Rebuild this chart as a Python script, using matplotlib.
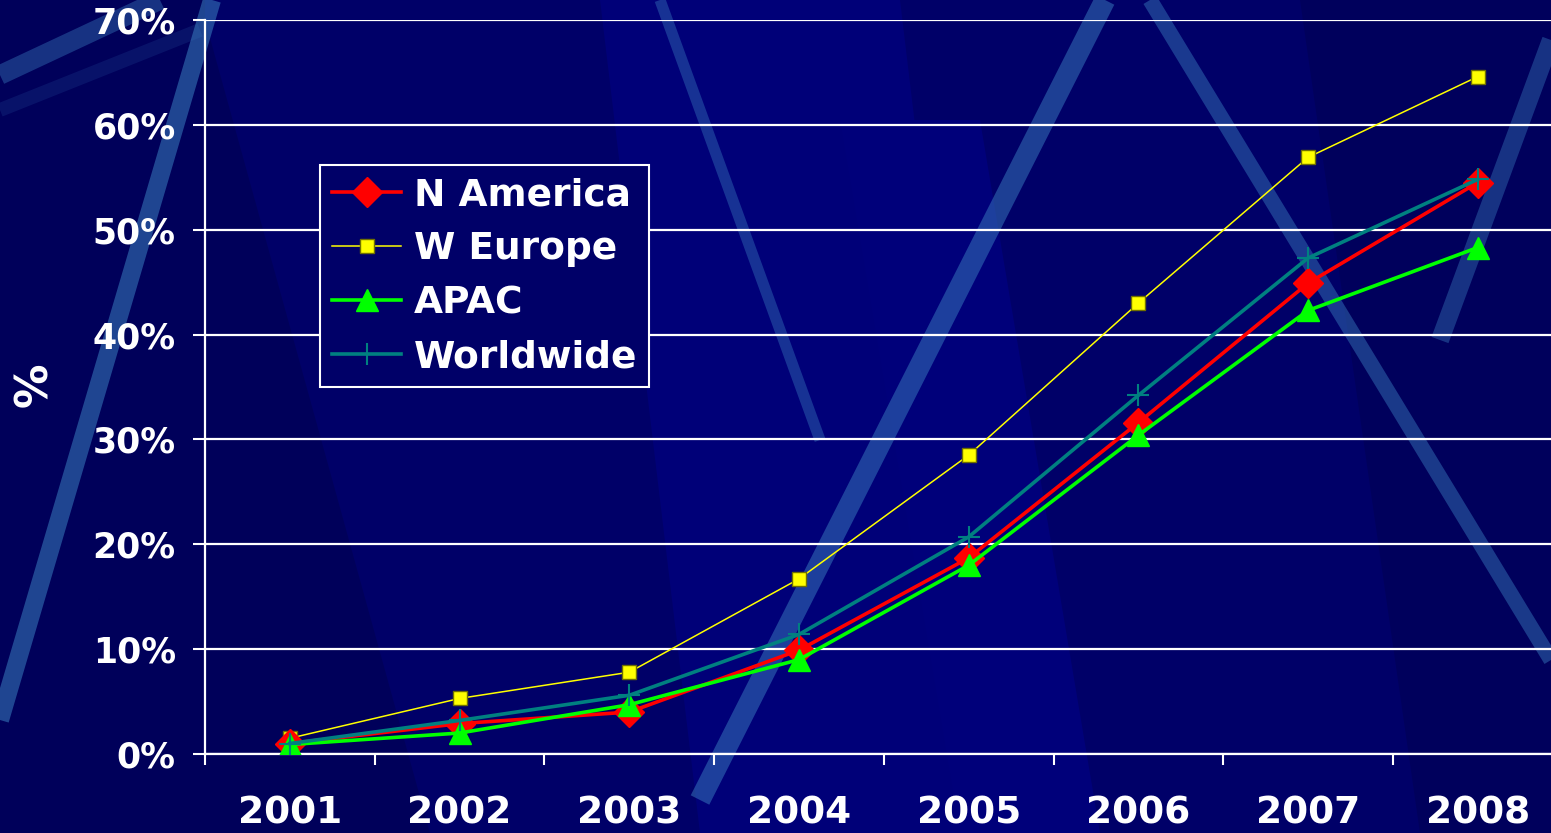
import numpy as np
import matplotlib
matplotlib.use("Agg")
import matplotlib.pyplot as plt
from matplotlib.patches import Polygon

plt.rcParams['font.family'] = ['DejaVu Sans']
plt.rcParams['font.weight'] = 'bold'

# data (percent)
years = ['2001', '2002', '2003', '2004', '2005', '2006', '2007', '2008']
n_america = [1.0, 2.9, 4.0, 9.9, 18.7, 31.6, 44.9, 54.5]
w_europe = [1.5, 5.3, 7.8, 16.7, 28.5, 43.0, 56.9, 64.6]
apac = [0.9, 2.0, 4.7, 9.0, 18.0, 30.4, 42.3, 48.3]
worldwide = [1.0, 3.2, 5.6, 11.4, 20.7, 34.2, 47.3, 54.8]
y_ticks = [0, 10, 20, 30, 40, 50, 60, 70]

W, H = 1551, 833
bg = '#000068'
fig = plt.figure(figsize=(W / 100, H / 100), dpi=100, facecolor=bg)

# decorative background (pixel coords)
bgax = fig.add_axes([0, 0, 1, 1], zorder=0)
bgax.set_xlim(0, W)
bgax.set_ylim(H, 0)
bgax.axis('off')
bgax.set_facecolor(bg)
panels = [
    ([(205, 20), (430, 833), (0, 833), (0, 0), (205, 0)], '#00005a'),
    ([(600, 0), (900, 0), (1000, 833), (700, 833)], '#000078'),
    ([(1300, 0), (1551, 0), (1551, 833), (1420, 833)], '#00005c'),
    ([(840, 120), (980, 120), (1100, 833), (960, 833)], '#00007a'),
]
for pts, c in panels:
    bgax.add_patch(Polygon(pts, closed=True, color=c, lw=0))
streaks = [
    ((0, 75), (160, 0), 14, 0.4),
    ((0, 110), (200, 30), 10, 0.15),
    ((212, 0), (0, 720), 13, 0.55),
    ((660, 0), (820, 440), 8, 0.4),
    ((1105, 0), (700, 800), 15, 0.5),
    ((1150, 0), (1551, 660), 11, 0.45),
    ((1551, 40), (1440, 340), 13, 0.4),
]
for (x0, y0), (x1, y1), lw, a in streaks:
    bgax.plot([x0, x1], [y0, y1], color='#3a7fc0', lw=lw, alpha=a,
              solid_capstyle='butt')

# main axes
left = 205 / W
bottom = 1 - 754 / H
top = 1 - 20 / H
right = (205 + 8 * 169.7) / W
ax = fig.add_axes([left, bottom, right - left, top - bottom], zorder=1)
ax.set_facecolor('none')

x = np.arange(len(years)) + 0.5
ax.plot(x, n_america, color='#ff0000', lw=2.6, marker='D', ms=15,
        mec='#ff0000', label='N America', zorder=4)
ax.plot(x, w_europe, color='#ffff00', lw=1.1, marker='s', ms=10.5,
        mfc='#ffff00', mec='#707000', mew=1, label='W Europe', zorder=3)
ax.plot(x, apac, color='#00ff00', lw=2.6, marker='^', ms=16,
        mec='#00ff00', label='APAC', zorder=5)
ax.plot(x, worldwide, color='#008080', lw=2.6, marker='+', ms=16, mew=1.5,
        label='Worldwide', zorder=6)

ax.set_xlim(0, 8)
ax.set_ylim(0, 70)
ax.set_yticks(y_ticks)
ax.set_yticklabels([f'{v}%' for v in y_ticks])
ax.set_xticks(np.arange(0, 8))
ax.set_xticklabels([])
ax.set_xticks(x, minor=True)
ax.set_xticklabels(years, minor=True)
ax.tick_params(axis='x', which='major', length=8, width=1.5, color='white',
               direction='out')
ax.tick_params(axis='x', which='minor', length=0, pad=30, labelsize=27,
               labelcolor='white')
ax.tick_params(axis='y', length=9, width=1.5, color='white', pad=12,
               labelsize=25, labelcolor='white')
for lab in ax.get_xticklabels(minor=True) + ax.get_yticklabels():
    lab.set_fontweight('bold')

ax.grid(axis='y', color='white', lw=1.6)
ax.set_axisbelow(True)
for s in ['top', 'right']:
    ax.spines[s].set_visible(False)
ax.spines['left'].set_color('white')
ax.spines['left'].set_linewidth(1.6)
ax.spines['bottom'].set_color('white')
ax.spines['bottom'].set_linewidth(1.6)

fig.text(35 / W, 1 - 385 / H, '%', rotation=90, color='white', fontsize=32,
         fontweight='bold', ha='center', va='center')

leg = ax.legend(loc='upper left',
                bbox_to_anchor=((320 - 205) / (8 * 169.7), (754 - 165) / 734),
                borderaxespad=0, fontsize=27, labelcolor='white',
                handlelength=1.85, handletextpad=0.33, labelspacing=0.48,
                borderpad=0.32, fancybox=False, framealpha=1)
leg.get_frame().set_facecolor(bg)
leg.get_frame().set_edgecolor('white')
leg.get_frame().set_linewidth(1.5)
for t in leg.get_texts():
    t.set_fontweight('bold')

fig.savefig('out.png', dpi=100, facecolor=bg)
